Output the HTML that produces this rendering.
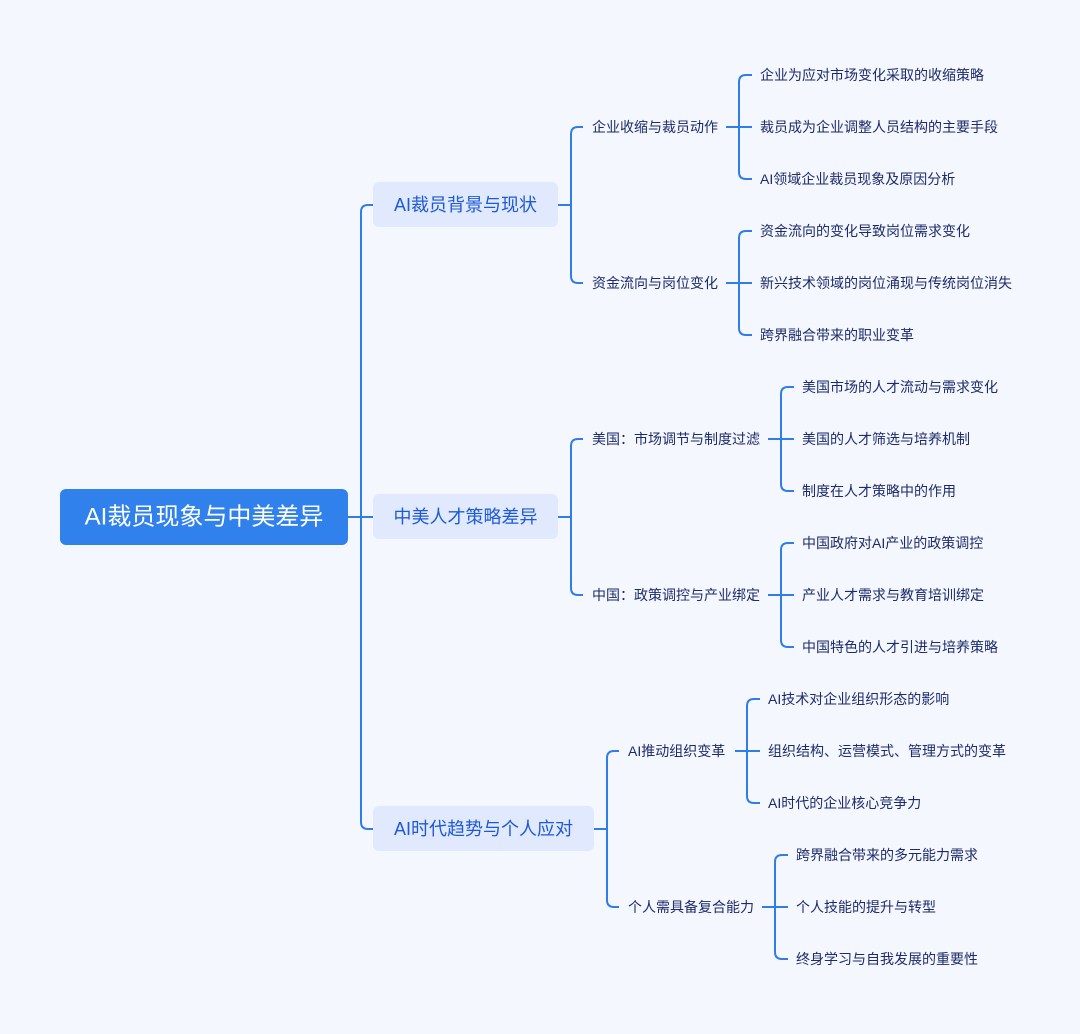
<!DOCTYPE html>
<html><head><meta charset="utf-8"><style>
html,body{margin:0;padding:0;background:#f5f7fe;}
svg{display:block}
text{font-family:"Liberation Sans","Noto Sans CJK SC",sans-serif;}
.l{fill:#1c2b6b;font-size:14px;dominant-baseline:central}
.n{fill:#1e5ad6;font-size:18px;dominant-baseline:central;text-anchor:middle}
</style></head><body>
<svg width="1080" height="1034" viewBox="0 0 1080 1034">
<rect width="1080" height="1034" fill="#f5f7fe"/>
<g fill="none" stroke="#2f7de9" stroke-width="2">
<path d="M373,205 H368 Q361,205 361,212 V822 Q361,829 368,829 H373 M348,517 H373"/>
<path d="M558,205 H571 M583,127 H578 Q571,127 571,134 V276 Q571,283 578,283 H583"/>
<path d="M726,127 H752 M752,75 H746 Q739,75 739,82 V172 Q739,179 746,179 H752"/>
<path d="M726,283 H752 M752,231 H746 Q739,231 739,238 V328 Q739,335 746,335 H752"/>
<path d="M558,517 H571 M583,439 H578 Q571,439 571,446 V588 Q571,595 578,595 H583"/>
<path d="M768,439 H794 M794,387 H788 Q781,387 781,394 V484 Q781,491 788,491 H794"/>
<path d="M768,595 H794 M794,543 H788 Q781,543 781,550 V640 Q781,647 788,647 H794"/>
<path d="M594,829 H607 M619,751 H614 Q607,751 607,758 V900 Q607,907 614,907 H619"/>
<path d="M735,751 H760 M760,699 H754 Q747,699 747,706 V796 Q747,803 754,803 H760"/>
<path d="M762,907 H788 M788,855 H782 Q775,855 775,862 V952 Q775,959 782,959 H788"/>
</g>
<rect x="60" y="489" width="288" height="56" rx="6" fill="#3081ec"/>
<text x="204" y="517" fill="#fff" font-size="24" text-anchor="middle" dominant-baseline="central">AI裁员现象与中美差异</text>
<rect x="373" y="182" width="185" height="45" rx="6" fill="#e0e9fd"/>
<text class="n" x="465.5" y="205">AI裁员背景与现状</text>
<rect x="373" y="494" width="185" height="45" rx="6" fill="#e0e9fd"/>
<text class="n" x="465.5" y="517">中美人才策略差异</text>
<rect x="373" y="806" width="221" height="45" rx="6" fill="#e0e9fd"/>
<text class="n" x="483.5" y="829">AI时代趋势与个人应对</text>
<text class="l" x="592" y="127">企业收缩与裁员动作</text>
<text class="l" x="592" y="283">资金流向与岗位变化</text>
<text class="l" x="592" y="439">美国：市场调节与制度过滤</text>
<text class="l" x="592" y="595">中国：政策调控与产业绑定</text>
<text class="l" x="628" y="751">AI推动组织变革</text>
<text class="l" x="628" y="907">个人需具备复合能力</text>
<text class="l" x="760" y="75">企业为应对市场变化采取的收缩策略</text>
<text class="l" x="760" y="127">裁员成为企业调整人员结构的主要手段</text>
<text class="l" x="760" y="179">AI领域企业裁员现象及原因分析</text>
<text class="l" x="760" y="231">资金流向的变化导致岗位需求变化</text>
<text class="l" x="760" y="283">新兴技术领域的岗位涌现与传统岗位消失</text>
<text class="l" x="760" y="335">跨界融合带来的职业变革</text>
<text class="l" x="802" y="387">美国市场的人才流动与需求变化</text>
<text class="l" x="802" y="439">美国的人才筛选与培养机制</text>
<text class="l" x="802" y="491">制度在人才策略中的作用</text>
<text class="l" x="802" y="543">中国政府对AI产业的政策调控</text>
<text class="l" x="802" y="595">产业人才需求与教育培训绑定</text>
<text class="l" x="802" y="647">中国特色的人才引进与培养策略</text>
<text class="l" x="768" y="699">AI技术对企业组织形态的影响</text>
<text class="l" x="768" y="751">组织结构、运营模式、管理方式的变革</text>
<text class="l" x="768" y="803">AI时代的企业核心竞争力</text>
<text class="l" x="796" y="855">跨界融合带来的多元能力需求</text>
<text class="l" x="796" y="907">个人技能的提升与转型</text>
<text class="l" x="796" y="959">终身学习与自我发展的重要性</text>
</svg>
</body></html>
